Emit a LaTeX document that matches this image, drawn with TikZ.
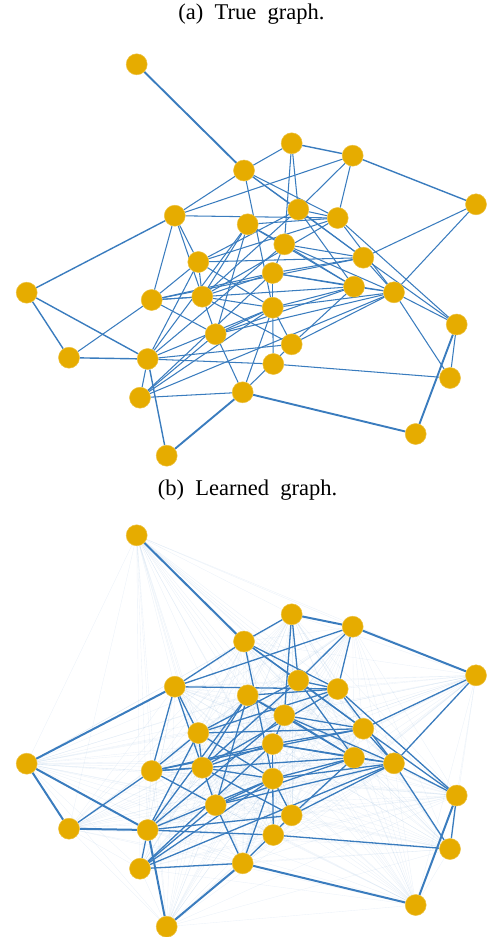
\documentclass[tikz,border=0pt]{standalone}
\usepackage{fontspec}
\setmainfont{Liberation Serif}
\usetikzlibrary{backgrounds}
\definecolor{edgeblue}{RGB}{58,124,190}
\definecolor{vgold}{RGB}{230,172,0}
\begin{document}
\begin{tikzpicture}[x=1pt,y=-1pt,
  vtx/.style={circle,fill=vgold,draw=vgold!75!white,line width=0.5pt,minimum size=21pt,inner sep=0pt},
  ed/.style={draw=edgeblue,line width=1.05pt},
  edmed/.style={draw=edgeblue,line width=1.4pt},
  edthick/.style={draw=edgeblue,line width=1.9pt},
  edb/.style={draw=edgeblue,line width=1.3pt},
  edbthick/.style={draw=edgeblue,line width=2pt},
  faint/.style={draw=edgeblue,opacity=0.10,line width=0.35pt},
  captext/.style={font=\fontsize{22.5}{25}\selectfont}]
\useasboundingbox (0,0) rectangle (491,937);
\node[captext] (capa) at (251.5,14) {(a)\enspace True\enspace graph.};
\node[captext] (capb) at (247.5,490) {(b)\enspace Learned\enspace graph.};
\def\pts{1/136.7/64.3, 2/291.7/143.3, 3/352.7/155.7, 4/244/170.5, 5/476/204.3,
 6/174.8/215.7, 7/298.3/209.5, 8/337.7/218, 9/247.7/224.3, 10/284.3/244.3,
 11/363.3/257.7, 12/198.3/262, 13/272.7/273, 14/354/286.7, 15/26.7/292.7,
 16/151.7/300, 17/202.3/296.7, 18/394/292.3, 19/272.7/307.7, 20/456.7/324.5,
 21/215.7/334.2, 22/291.7/344.3, 23/69/357.7, 24/147.7/359, 25/273.3/364,
 26/450/378, 27/140/397.7, 28/242.7/392.3, 29/415.7/434, 30/166.7/455.7}
\foreach \i/\x/\y in \pts {
  \node[vtx] (n\i) at (\x,\y) {};
  \node[vtx] (m\i) at (\x,\y+471) {};
}
\begin{scope}[on background layer]
  % faint learned weights
  \foreach \i in {1,...,29} {
    \pgfmathtruncatemacro\s{\i+1}
    \foreach \j in {\s,...,30} { \draw[faint] (m\i) -- (m\j); }
  }
  \foreach \a/\b in {1/4, 28/30, 28/29, 29/20} {
    \draw[edthick] (n\a) -- (n\b);
    \draw[edbthick] (m\a) -- (m\b);
  }
  \foreach \a/\b in {15/23, 23/24, 24/30, 15/6, 3/5, 2/3, 15/24} {
    \draw[edmed] (n\a) -- (n\b);
    \draw[edbthick] (m\a) -- (m\b);
  }
  \foreach \a/\b in {2/4, 2/7, 2/10, 3/8, 3/6, 3/7, 5/11, 5/18, 6/4, 6/16, 6/12,
    6/17, 6/8, 23/16, 24/27, 27/28, 20/26, 18/26, 18/20, 11/20, 8/20, 25/26,
    24/25, 28/22, 28/19, 28/21, 4/7, 4/19, 4/8, 4/11, 7/8, 9/8, 12/7, 12/8,
    9/10, 9/17, 9/24, 10/11, 10/14, 10/13, 13/14, 13/11, 13/19, 13/17, 13/16,
    14/18, 11/18, 14/19, 19/18, 14/22, 19/22, 19/17, 17/21, 17/22,
    21/27, 22/18, 27/18, 24/12, 24/10, 24/22, 16/12, 16/11,
    16/17, 27/13, 27/19, 7/14, 7/11, 12/17, 16/14,
    9/14, 12/11, 12/19, 8/17, 7/17, 10/18, 13/18, 21/14, 21/18, 16/21,
    19/21, 19/24, 19/25, 8/18, 9/21} {
    \draw[ed] (n\a) -- (n\b);
    \draw[edb] (m\a) -- (m\b);
  }
\end{scope}
\end{tikzpicture}
\end{document}
